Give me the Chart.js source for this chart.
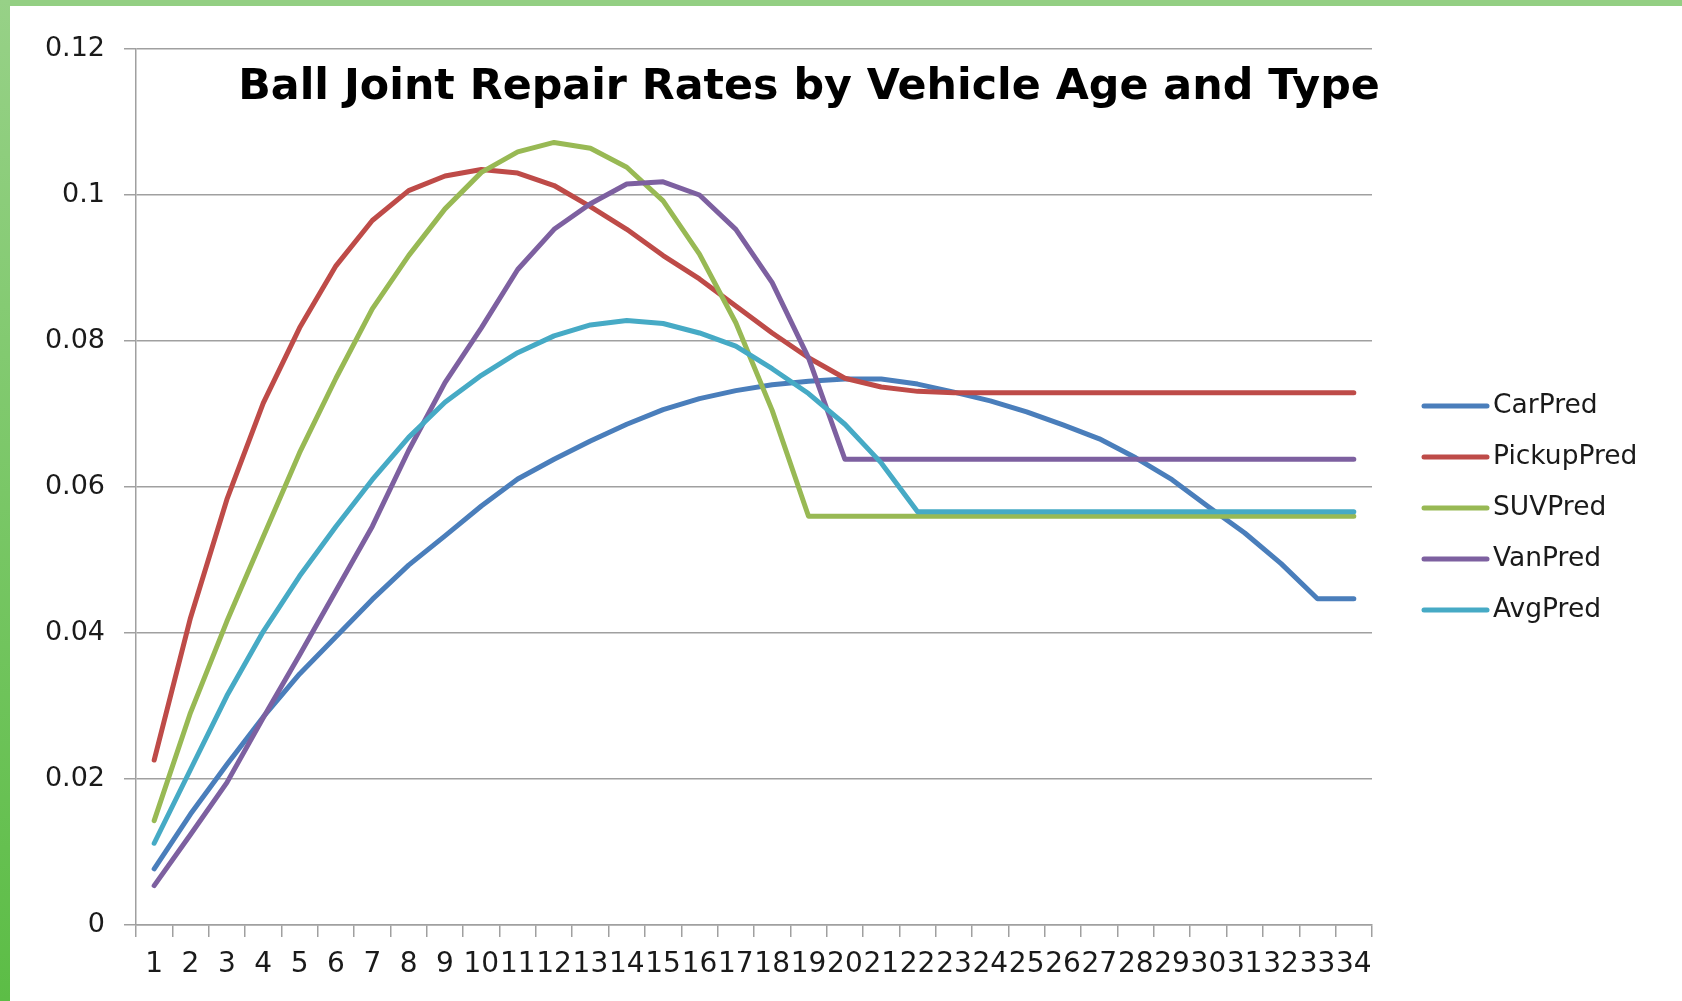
<!DOCTYPE html>
<html>
<head>
<meta charset="utf-8">
<title>Ball Joint Repair Rates by Vehicle Age and Type</title>
<script src="https://cdn.jsdelivr.net/npm/chart.js"></script>
<style>
  html, body { margin: 0; padding: 0; background: #fff; }
  #wrap { position: relative; width: 1682px; height: 1001px; overflow: hidden; background: #fff; }
  #topBar { position: absolute; left: 0; top: 0; width: 1682px; height: 6px; background: #93cf83; z-index: 2; }
  #leftBar { position: absolute; left: 0; top: 0; width: 10px; height: 1001px; background: linear-gradient(#97d187, #5cbd46); z-index: 2; }
  canvas { position: absolute; left: 0; top: 0; }
</style>
</head>
<body>
<div id="wrap">
  <div id="topBar"></div>
  <div id="leftBar"></div>
  <canvas id="myChart" width="1682" height="1001"></canvas>
</div>
<script>
const chartTitle = "Ball Joint Repair Rates by Vehicle Age and Type";

// vehicle age (x axis tick labels)
const vehicleAge = ["1","2","3","4","5","6","7","8","9","10","11","12","13","14","15","16","17",
  "18","19","20","21","22","23","24","25","26","27","28","29","30","31","32","33","34"];

const seriesNames = ["CarPred", "PickupPred", "SUVPred", "VanPred", "AvgPred"];

const carPred = [0.0077, 0.0152, 0.0220, 0.0285, 0.0344, 0.0395, 0.0446, 0.0493, 0.0533, 0.0574,
  0.0611, 0.0638, 0.0663, 0.0686, 0.0706, 0.0721, 0.0732, 0.0740, 0.0745, 0.0748,
  0.0748, 0.0741, 0.0730, 0.0718, 0.0703, 0.0685, 0.0666, 0.0640, 0.0610, 0.0573,
  0.0537, 0.0495, 0.0447, 0.0447];

const pickupPred = [0.0226, 0.0421, 0.0583, 0.0715, 0.0818, 0.0903, 0.0965, 0.1006, 0.1026, 0.1035,
  0.1030, 0.1013, 0.0984, 0.0953, 0.0917, 0.0885, 0.0848, 0.0811, 0.0777, 0.0749,
  0.0737, 0.0731, 0.0729, 0.0729, 0.0729, 0.0729, 0.0729, 0.0729, 0.0729, 0.0729,
  0.0729, 0.0729, 0.0729, 0.0729];

const suvPred = [0.0143, 0.0291, 0.0416, 0.0532, 0.0647, 0.0749, 0.0844, 0.0917, 0.0981, 0.1031,
  0.1059, 0.1072, 0.1064, 0.1038, 0.0992, 0.0919, 0.0825, 0.0705, 0.0560, 0.0560,
  0.0560, 0.0560, 0.0560, 0.0560, 0.0560, 0.0560, 0.0560, 0.0560, 0.0560, 0.0560,
  0.0560, 0.0560, 0.0560, 0.0560];

const vanPred = [0.0054, 0.0124, 0.0195, 0.0284, 0.0370, 0.0458, 0.0546, 0.0650, 0.0743, 0.0818,
  0.0898, 0.0953, 0.0988, 0.1015, 0.1018, 0.1000, 0.0953, 0.0880, 0.0777, 0.0638,
  0.0638, 0.0638, 0.0638, 0.0638, 0.0638, 0.0638, 0.0638, 0.0638, 0.0638, 0.0638,
  0.0638, 0.0638, 0.0638, 0.0638];

const avgPred = [0.0112, 0.0213, 0.0314, 0.0402, 0.0478, 0.0546, 0.0610, 0.0668, 0.0716, 0.0753,
  0.0784, 0.0807, 0.0822, 0.0828, 0.0824, 0.0811, 0.0793, 0.0762, 0.0728, 0.0686,
  0.0633, 0.0566, 0.0566, 0.0566, 0.0566, 0.0566, 0.0566, 0.0566, 0.0566, 0.0566,
  0.0566, 0.0566, 0.0566, 0.0566];

const seriesColors = ["#4a7ebb", "#be4b48", "#98b954", "#7d60a0", "#46aac5"];
const gridColor = "#a0a0a0";
const textColor = "#1a1a1a";

const makeLine = (idx, values) => ({
  label: seriesNames[idx],
  data: values,
  borderColor: seriesColors[idx],
  backgroundColor: seriesColors[idx],
  borderWidth: 5,
  borderCapStyle: "round",
  borderJoinStyle: "round",
  pointRadius: 0,
  tension: 0,
  fill: false,
  order: 5 - idx, // later series on top, like the spreadsheet
});

// title sits inside the plot, over the grid
const titlePlugin = {
  id: "slideTitle",
  afterDraw(chart) {
    const ctx = chart.ctx;
    ctx.save();
    ctx.font = 'bold 44px "DejaVu Sans"';
    const w = ctx.measureText(chartTitle).width;
    const size = 44 * 1142 / w;
    ctx.font = `bold ${size}px "DejaVu Sans"`;
    ctx.fillStyle = "#000";
    ctx.textAlign = "center";
    ctx.textBaseline = "alphabetic";
    ctx.fillText(chartTitle, 809, 99);
    ctx.restore();
  },
};

// legend drawn by hand to get the long line swatches
const legendPlugin = {
  id: "sideLegend",
  afterDraw(chart) {
    const ctx = chart.ctx;
    ctx.save();
    chart.data.datasets.forEach((ds, i) => {
      const y = 406 + i * 51;
      ctx.strokeStyle = ds.borderColor;
      ctx.lineWidth = ds.borderWidth;
      ctx.lineCap = "round";
      ctx.beginPath();
      ctx.moveTo(1424, y);
      ctx.lineTo(1487, y);
      ctx.stroke();
      ctx.fillStyle = textColor;
      ctx.font = '26.5px "DejaVu Sans"';
      ctx.textAlign = "left";
      ctx.textBaseline = "middle";
      ctx.fillText(ds.label, 1493, y);
    });
    ctx.restore();
  },
};

const ctx = document.getElementById("myChart").getContext("2d");
const myChart = new Chart(ctx, {
  type: "line",
  data: {
    labels: vehicleAge,
    datasets: [
      makeLine(0, carPred),
      makeLine(1, pickupPred),
      makeLine(2, suvPred),
      makeLine(3, vanPred),
      makeLine(4, avgPred),
    ],
  },
  options: {
    responsive: false,
    animation: false,
    devicePixelRatio: 1,
    layout: { padding: { left: 0, top: 49, right: 310, bottom: 0 } },
    plugins: {
      legend: { display: false },
      title: { display: false },
      tooltip: { enabled: false },
    },
    scales: {
      x: {
        type: "category",
        offset: true,
        grid: {
          offset: true,
          drawOnChartArea: false,
          drawTicks: true,
          tickLength: 12,
          color: gridColor,
          lineWidth: 1.5,
        },
        border: { display: true, color: gridColor, width: 1.5 },
        ticks: {
          autoSkip: false,
          maxRotation: 0,
          minRotation: 0,
          padding: 11,
          color: textColor,
          font: { family: "DejaVu Sans", size: 28 },
        },
        afterFit(scale) { scale.height = 76; },
      },
      y: {
        min: 0,
        max: 0.12,
        grid: {
          drawTicks: true,
          tickLength: 12,
          color: gridColor,
          lineWidth: 1.5,
        },
        border: { display: true, color: gridColor, width: 1.5 },
        ticks: {
          stepSize: 0.02,
          padding: 19,
          color: textColor,
          font: { family: "DejaVu Sans", size: 27 },
          callback: (v) => String(+Number(v).toFixed(2)),
        },
        afterFit(scale) { scale.width = 136; },
      },
    },
  },
  plugins: [titlePlugin, legendPlugin],
});
</script>
</body>
</html>
